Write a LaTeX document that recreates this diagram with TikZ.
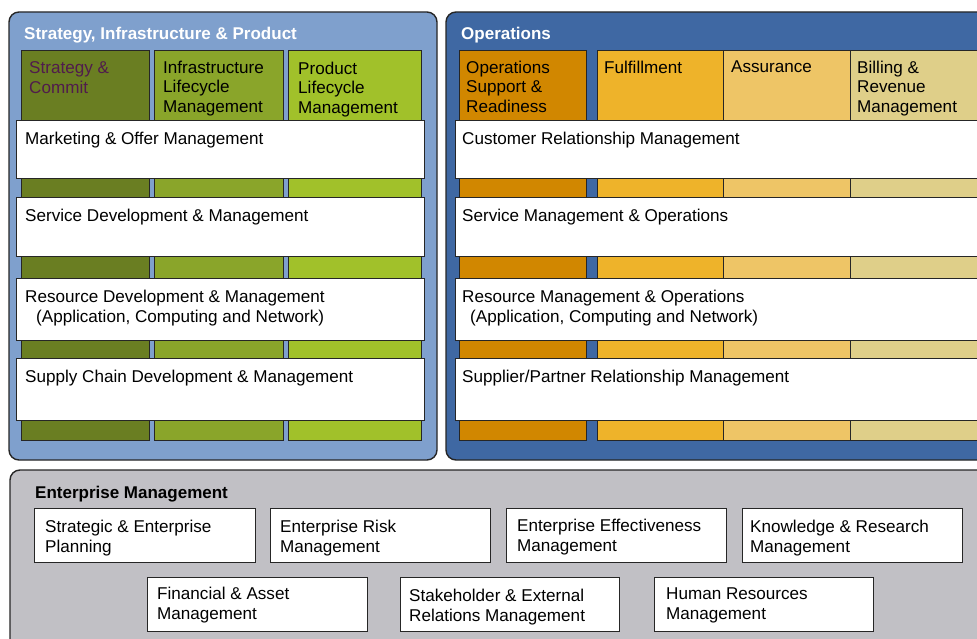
\documentclass[tikz,border=0pt]{standalone}
\usepackage{fontspec}
\setmainfont{Liberation Sans}
\definecolor{sipblue}{HTML}{7FA0CD}
\definecolor{opsblue}{HTML}{3F68A3}
\definecolor{emgray}{HTML}{C1C0C5}
\definecolor{scolA}{HTML}{6A7E22}
\definecolor{scolB}{HTML}{8AA52A}
\definecolor{scolC}{HTML}{A1C12A}
\definecolor{ocolA}{HTML}{D18700}
\definecolor{ocolB}{HTML}{EEB32A}
\definecolor{ocolC}{HTML}{EEC566}
\definecolor{ocolD}{HTML}{DFCF89}
\definecolor{plum}{HTML}{501C4C}
\begin{document}
\begin{tikzpicture}[x=1pt,y=-1pt,
    font=\fontsize{17.1}{19.5}\selectfont,
    panel/.style={draw=black!85,line width=1.4pt,rounded corners=10pt},
    stripe/.style={draw=black!85,line width=0.9pt},
    whitebox/.style={draw=black!85,fill=white,line width=0.9pt},
    txt/.style={anchor=north west,inner sep=0pt,align=left},
    ptitle/.style={txt,font=\fontsize{17}{19.5}\selectfont\bfseries},
    hdr/.style={txt,font=\fontsize{17.1}{19.4}\selectfont},
    rowtxt/.style={txt,font=\fontsize{17.1}{20}\selectfont},
    emtxt/.style={txt,font=\fontsize{17.1}{20}\selectfont}]
\clip (0,0) rectangle (977,639);
% strategy, infrastructure & product
\draw[panel,fill=sipblue] (9,12) rectangle (437,460);
\node[ptitle,text=white] (sip) at (24,26.5) {Strategy, Infrastructure \& Product};
\foreach \xa/\xb/\c in {21/149/scolA,154/283/scolB,288/421/scolC}
  \draw[stripe,fill=\c] (\xa,50) rectangle (\xb,440);
\node[hdr,text=plum] (sc) at (29,61.5) {Strategy \&\\Commit};
\node[hdr] (ilm) at (163,61) {Infrastructure\\Lifecycle\\Management};
\node[hdr] (plm) at (298,62) {Product\\Lifecycle\\Management};
\foreach \ya/\yb in {120/178,197/256,278/340,358/420}
  \draw[whitebox] (16,\ya) rectangle (424,\yb);
\node[rowtxt] (mkt) at (25,132) {Marketing \& Offer Management};
\node[rowtxt] (sdm) at (25,209) {Service Development \& Management};
\node[rowtxt] (rdm) at (25,290) {Resource Development \& Management\\\hspace*{11pt}(Application, Computing and Network)};
\node[rowtxt] (scdm) at (25,370) {Supply Chain Development \& Management};
% operations
\draw[panel,fill=opsblue] (446,12) rectangle (1000,460);
\node[ptitle,text=white] (ops) at (461,26.5) {Operations};
\foreach \xa/\xb/\c in {459/586/ocolA,597/723/ocolB,723/850/ocolC,850/990/ocolD}
  \draw[stripe,fill=\c] (\xa,50) rectangle (\xb,440);
\node[hdr] (osr) at (466,61) {Operations\\Support \&\\Readiness};
\node[hdr] (ful) at (604,61) {Fulfillment};
\node[hdr] (asr) at (731,61) {Assurance};
\node[hdr] (brm) at (857,61) {Billing \&\\Revenue\\Management};
\foreach \ya/\yb in {120/178,197/256,278/340,358/420}
  \draw[whitebox] (455,\ya) rectangle (990,\yb);
\node[rowtxt] (crm) at (462,132) {Customer Relationship Management};
\node[rowtxt] (smo) at (462,209) {Service Management \& Operations};
\node[rowtxt] (rmo) at (462,290) {Resource Management \& Operations\\\hspace*{8pt}(Application, Computing and Network)};
\node[rowtxt] (sprm) at (462,370) {Supplier/Partner Relationship Management};
% enterprise management
\draw[panel,fill=emgray] (10,470) rectangle (1000,660);
\node[ptitle] (em) at (35,486) {Enterprise Management};
\foreach \xa/\xb in {34/255,270/490,506/726,742/962}
  \draw[whitebox] (\xa,508) rectangle (\xb,562);
\foreach \xa/\xb in {147/367,400/619,654/873}
  \draw[whitebox] (\xa,577) rectangle (\xb,631);
\node[emtxt] (sep) at (45,520) {Strategic \& Enterprise\\Planning};
\node[emtxt] (erm) at (280,520) {Enterprise Risk\\Management};
\node[emtxt] (eem) at (517,519) {Enterprise Effectiveness\\Management};
\node[emtxt] (krm) at (750,520) {Knowledge \& Research\\Management};
\node[emtxt] (fam) at (157,587) {Financial \& Asset\\Management};
\node[emtxt] (serm) at (409,589) {Stakeholder \& External\\Relations Management};
\node[emtxt] (hrm) at (666,588) {Human Resources\\Management};
\end{tikzpicture}
\end{document}
